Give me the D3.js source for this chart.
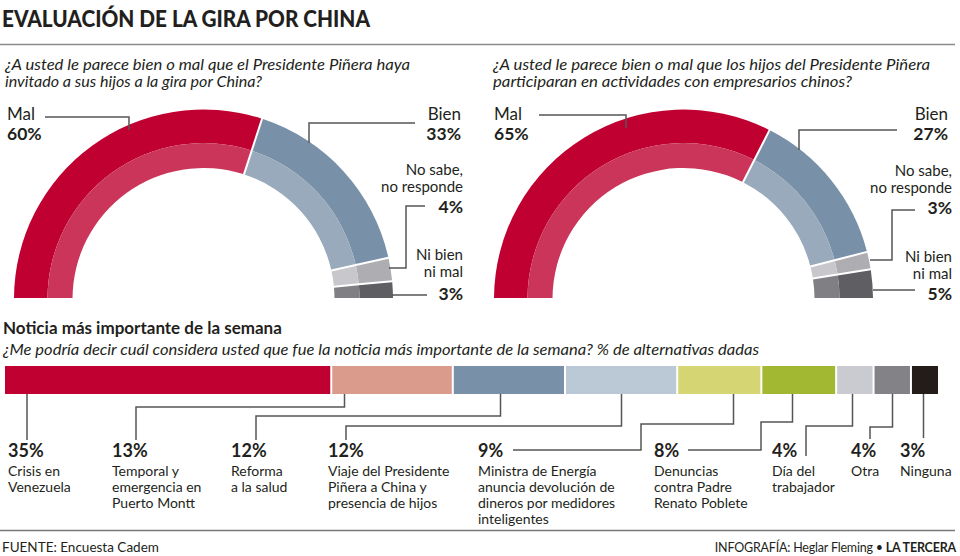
<!DOCTYPE html>
<html>
<head>
<meta charset="utf-8">
<script src="https://cdn.jsdelivr.net/npm/d3@7"></script>
<style>
  html, body { margin: 0; padding: 0; background: #fff; }
  svg { display: block; font-family: Lato, "Open Sans", sans-serif; }
</style>
</head>
<body>
<svg id="chart" width="960" height="556"></svg>
<script>
// ---------- DATA ----------
const gaugeCategories = ["Mal", "Bien", "No sabe, no responde", "Ni bien ni mal"];
const gauge1Values = [60, 33, 4, 3];
const gauge2Values = [65, 27, 3, 5];
const gauge1Question = ["¿A usted le parece bien o mal que el Presidente Piñera haya", "invitado a sus hijos a la gira por China?"];
const gauge2Question = ["¿A usted le parece bien o mal que los hijos del Presidente Piñera", "participaran en actividades con empresarios chinos?"];

const newsCategories = [
  ["Crisis en", "Venezuela"],
  ["Temporal y", "emergencia en", "Puerto Montt"],
  ["Reforma", "a la salud"],
  ["Viaje del Presidente", "Piñera a China y", "presencia de hijos"],
  ["Ministra de Energía", "anuncia devolución de", "dineros por medidores", "inteligentes"],
  ["Denuncias", "contra Padre", "Renato Poblete"],
  ["Día del", "trabajador"],
  ["Otra"],
  ["Ninguna"]
];
const newsValues = [35, 13, 12, 12, 9, 8, 4, 4, 3];

// ---------- STYLE / LAYOUT ----------
const gaugeOuter = ["#C00030", "#7890A8", "#AEADB2", "#5F5E62"];
const gaugeInner = ["#CB3559", "#98AABB", "#C8C7CB", "#807F83"];
const newsColors = ["#C00030", "#DA9B8C", "#7890A8", "#BBC9D6", "#D5D673", "#A2B832", "#CACBD0", "#838287", "#231C19"];
const ink = "#231F20";
const leaderColor = "#555";

const svg = d3.select("#chart");

// Title
svg.append("text").attr("x", 2).attr("y", 27)
  .attr("font-size", 23).attr("font-weight", 900).attr("fill", ink)
  .attr("textLength", 368).attr("lengthAdjust", "spacingAndGlyphs")
  .text("EVALUACIÓN DE LA GIRA POR CHINA");
svg.append("line").attr("x1", 0).attr("x2", 955).attr("y1", 44.5).attr("y2", 44.5)
  .attr("stroke", "#8a8a8a").attr("stroke-width", 1.5);

// ---------- GAUGES ----------
const rOuter = 189.5, rMid = 156, rInner = 131;
const pie = d3.pie().sort(null).startAngle(-Math.PI / 2).endAngle(Math.PI / 2);
const arcOuter = d3.arc().innerRadius(rMid).outerRadius(rOuter).padAngle(0.0125).padRadius(160);
const arcInner = d3.arc().innerRadius(rInner).outerRadius(rMid).padAngle(0.0125).padRadius(160);
const line = d3.line();

const gaugeLayouts = [
  {
    values: gauge1Values, question: gauge1Question, qx: 5, qw: [405, 257], cx: 203.5, cy: 299,
    labels: [
      { anchor: "start", x: 7, names: [120], pct: 140, nameSize: 17, leader: [[45, 117], [129, 117], [129, 130]] },
      { anchor: "end", x: 461, names: [120], pct: 140, nameSize: 17, leader: [[415, 123], [309, 123], [309, 143]] },
      { anchor: "end", x: 463, names: [175, 192], pct: 213, nameSize: 15, leader: [[425, 206], [406, 206], [406, 268], [389, 268]] },
      { anchor: "end", x: 463, names: [260, 277], pct: 300, nameSize: 15, leader: [[392, 295], [427, 295]] }
    ]
  },
  {
    values: gauge2Values, question: gauge2Question, qx: 493, qw: [437, 359], cx: 683.5, cy: 299,
    labels: [
      { anchor: "start", x: 494, names: [120], pct: 140, nameSize: 17, leader: [[539, 115], [626, 115], [626, 128]] },
      { anchor: "end", x: 948, names: [120], pct: 140, nameSize: 17, leader: [[897, 130], [799, 130], [799, 150]] },
      { anchor: "end", x: 952, names: [176, 193], pct: 214, nameSize: 15, leader: [[915, 210], [892, 210], [892, 260], [870, 260]] },
      { anchor: "end", x: 952, names: [262, 279], pct: 300, nameSize: 15, leader: [[873, 290], [915, 290]] }
    ]
  }
];
const nameLines = [["Mal"], ["Bien"], ["No sabe,", "no responde"], ["Ni bien", "ni mal"]];

gaugeLayouts.forEach(g => {
  // question
  g.question.forEach((q, i) => {
    svg.append("text").attr("x", g.qx).attr("y", 70 + i * 16.5)
      .attr("font-size", 15.5).attr("font-style", "italic").attr("fill", ink)
      .attr("textLength", g.qw[i]).attr("lengthAdjust", "spacingAndGlyphs").text(q);
  });
  const arcs = pie(g.values);
  const gg = svg.append("g").attr("transform", `translate(${g.cx},${g.cy})`);
  gg.selectAll("path.o").data(arcs).join("path").attr("class", "o")
    .attr("d", arcOuter).attr("fill", (d, i) => gaugeOuter[i]);
  gg.selectAll("path.i").data(arcs).join("path").attr("class", "i")
    .attr("d", arcInner).attr("fill", (d, i) => gaugeInner[i]);

  g.labels.forEach((L, i) => {
    svg.append("path").attr("d", line(L.leader)).attr("fill", "none")
      .attr("stroke", leaderColor).attr("stroke-width", 1.5);
    nameLines[i].forEach((t, j) => {
      svg.append("text").attr("x", L.x).attr("y", L.names[j]).attr("text-anchor", L.anchor)
        .attr("font-size", L.nameSize).attr("fill", ink).text(t);
    });
    svg.append("text").attr("x", L.x).attr("y", L.pct).attr("text-anchor", L.anchor)
      .attr("font-size", 17.5).attr("font-weight", 700).attr("fill", ink)
      .text(g.values[i] + "%");
  });
});

// ---------- NEWS BAR ----------
svg.append("text").attr("x", 3).attr("y", 334).attr("font-size", 17).attr("font-weight", 700)
  .attr("fill", ink).text("Noticia más importante de la semana");
svg.append("text").attr("x", 3).attr("y", 355).attr("font-size", 15.5).attr("font-style", "italic")
  .attr("fill", ink).attr("textLength", 756).attr("lengthAdjust", "spacingAndGlyphs")
  .text("¿Me podría decir cuál considera usted que fue la noticia más importante de la semana? % de alternativas dadas");

const x = d3.scaleLinear().domain([0, d3.sum(newsValues)]).range([5, 940]);
const cum = d3.cumsum(newsValues);
const starts = newsValues.map((v, i) => cum[i] - v);
const barTop = 366, barH = 28;

svg.selectAll("rect.seg").data(newsValues).join("rect").attr("class", "seg")
  .attr("x", (d, i) => x(starts[i]))
  .attr("width", (d, i) => x(cum[i]) - x(starts[i]) - 2)
  .attr("y", barTop).attr("height", barH)
  .attr("fill", (d, i) => newsColors[i]);

// leader layout: fraction along segment, elbow y, drop x, end y, optional tail x
const newsLeaders = [
  { f: 0.068, ey: null, dx: 27, endY: 440 },
  { f: 0.10, ey: 407, dx: 136, endY: 440 },
  { f: 0.42, ey: 416, dx: 256, endY: 440 },
  { f: 0.50, ey: 426, dx: 346, endY: 440 },
  { f: 0.67, ey: 424, dx: 641, endY: 450, tail: 513 },
  { f: 0.41, ey: 422, dx: 761, endY: 450, tail: 688 },
  { f: 0.43, ey: 426, dx: 806, endY: 456 },
  { f: 0.50, ey: 427, dx: 870, endY: 439 },
  { f: 0.42, ey: null, dx: null, endY: 438 }
];
const labelX = [8, 112, 231, 328, 478, 654, 772, 851, 900];

newsValues.forEach((v, i) => {
  const L = newsLeaders[i];
  const ax = Math.round(x(starts[i]) + L.f * (x(cum[i]) - x(starts[i]) - 2)) + 0.5;
  const pts = [[ax, barTop + barH]];
  if (L.ey !== null) {
    pts.push([ax, L.ey], [L.dx, L.ey], [L.dx, L.endY]);
  } else if (L.dx !== null) {
    pts[0][0] = L.dx; pts.push([L.dx, L.endY]);
  } else {
    pts.push([ax, L.endY]);
  }
  if (L.tail) pts.push([L.tail, L.endY]);
  svg.append("path").attr("d", line(pts)).attr("fill", "none")
    .attr("stroke", leaderColor).attr("stroke-width", 1.5);

  svg.append("text").attr("x", labelX[i]).attr("y", 457)
    .attr("font-size", 18).attr("font-weight", 700).attr("fill", ink).text(v + "%");
  newsCategories[i].forEach((t, j) => {
    svg.append("text").attr("x", labelX[i]).attr("y", 476 + j * 16)
      .attr("font-size", 14).attr("fill", ink).text(t);
  });
});

// ---------- FOOTER ----------
svg.append("line").attr("x1", 0).attr("x2", 955).attr("y1", 530.5).attr("y2", 530.5)
  .attr("stroke", "#777").attr("stroke-width", 1.5);
svg.append("text").attr("x", 2).attr("y", 552).attr("font-size", 13.5).attr("fill", ink)
  .text("FUENTE: Encuesta Cadem");
const credit = svg.append("text").attr("x", 956).attr("y", 552).attr("text-anchor", "end")
  .attr("font-size", 12.5).attr("letter-spacing", -0.2).attr("fill", ink);
credit.append("tspan").text("INFOGRAFÍA: Heglar Fleming • ");
credit.append("tspan").attr("font-weight", 700).text("LA TERCERA");
</script>
</body>
</html>
